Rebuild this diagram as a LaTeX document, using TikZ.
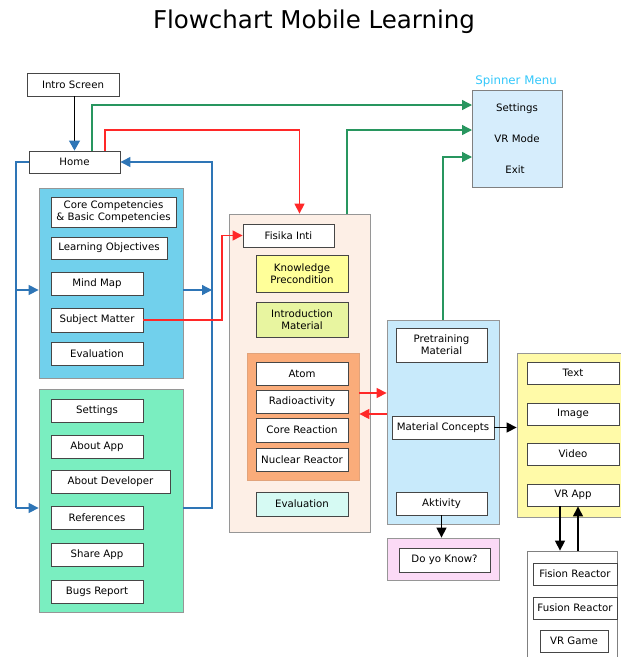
\documentclass[tikz,border=0pt]{standalone}
\usepackage{fontspec}
\setmainfont{DejaVu Sans}
\usetikzlibrary{arrows.meta}
\definecolor{cyanbg}{RGB}{113,208,236}
\definecolor{mintbg}{RGB}{122,238,192}
\definecolor{peachbg}{RGB}{253,239,230}
\definecolor{kpbg}{RGB}{255,255,153}
\definecolor{imbg}{RGB}{232,245,160}
\definecolor{orangebg}{RGB}{250,172,122}
\definecolor{evalbg}{RGB}{214,250,243}
\definecolor{bluebg}{RGB}{200,234,251}
\definecolor{pinkbg}{RGB}{251,218,246}
\definecolor{yellowbg}{RGB}{255,250,168}
\definecolor{spinbg}{RGB}{214,237,252}
\definecolor{spintitle}{RGB}{51,199,250}
\definecolor{lblue}{RGB}{46,117,182}
\definecolor{lgreen}{RGB}{40,150,95}
\definecolor{lred}{RGB}{255,40,40}
\definecolor{bord}{RGB}{70,70,70}
\definecolor{cbord}{RGB}{150,150,150}
\newcommand\bx[7]{\node[#6, minimum width={(#4-#2)*1pt}, minimum height={(#5-#3)*1pt}] (#1) at ({(#2+#4)/2},{(#3+#5)/2}) {#7};}
\newcommand\fs{\fontsize{10.2}{12}\selectfont}
\begin{document}
\begin{tikzpicture}[x=1pt,y=-1pt,
  box/.style={draw=bord, line width=0.9pt, fill=white, inner sep=0pt, align=center, font=\fs},
  cont/.style={draw=cbord, line width=0.8pt, inner sep=0pt},
  arr/.style={-{Triangle[length=10pt,width=10pt]}},
  blu/.style={draw=lblue, line width=1.3pt, arr},
  grn/.style={draw=lgreen, line width=1.4pt, arr},
  rd/.style={draw=lred, line width=1.3pt, arr},
  blk/.style={draw=black, line width=1.4pt, arr},
  lbl/.style={font=\fs, inner sep=0pt}]
\useasboundingbox (0,0) rectangle (621,657);
\clip (0,0) rectangle (621,657);
\node[font=\fontsize{24.5}{28}\selectfont, inner sep=0pt] (title) at (314,22) {Flowchart Mobile Learning};

% left column
\bx{intro}{27}{73}{119}{96}{box}{Intro Screen}
\bx{home}{29}{151}{120}{173}{box}{Home}
\bx{cyanc}{39}{188}{183}{378}{cont,fill=cyanbg}{}
\bx{cc}{51}{197}{176}{227}{box}{Core Competencies\\\& Basic Competencies}
\bx{lo}{51}{237}{167}{259}{box}{Learning Objectives}
\bx{mm}{51}{272}{143}{295}{box}{Mind Map}
\bx{subj}{51}{308}{143}{332}{box}{Subject Matter}
\bx{evl}{51}{342}{143}{365}{box}{Evaluation}
\bx{mintc}{39}{389}{183}{612}{cont,fill=mintbg}{}
\bx{sett}{51}{399}{143}{422}{box}{Settings}
\bx{about}{51}{435}{143}{458}{box}{About App}
\bx{dev}{51}{470}{170}{493}{box}{About Developer}
\bx{refs}{51}{506}{143}{529}{box}{References}
\bx{share}{51}{543}{143}{566}{box}{Share App}
\bx{bugs}{51}{580}{143}{603}{box}{Bugs Report}

% middle column
\bx{fisc}{229}{214}{370}{532}{cont,fill=peachbg}{}
\bx{fis}{243}{224}{334}{247}{box}{Fisika Inti}
\bx{kp}{256}{255}{348}{292}{box,fill=kpbg}{Knowledge\\Precondition}
\bx{im}{256}{302}{348}{337}{box,fill=imbg}{Introduction\\Material}
\bx{orc}{247}{353}{359}{480}{cont,fill=orangebg,draw=orangebg!80!gray}{}
\bx{atom}{256}{362}{348}{385}{box}{Atom}
\bx{radio}{256}{390}{348}{413}{box}{Radioactivity}
\bx{core}{256}{418}{348}{442}{box}{Core Reaction}
\bx{nucl}{256}{448}{348}{471}{box}{Nuclear Reactor}
\bx{eval2}{256}{492}{348}{516}{box,fill=evalbg}{Evaluation}

% blue column
\bx{bluec}{387}{320}{499}{524}{cont,fill=bluebg}{}
\bx{pre}{396}{328}{487}{362}{box}{Pretraining\\Material}
\bx{matc}{392}{416}{494}{439}{box}{Material Concepts}
\bx{akt}{396}{492}{487}{515}{box}{Aktivity}
\bx{pinkc}{387}{538}{499}{580}{cont,fill=pinkbg}{}
\bx{dyk}{399}{548}{490}{572}{box}{Do yo Know?}

% spinner
\bx{spin}{472}{90}{562}{187}{cont,fill=spinbg,draw=gray}{}
\node[font=\fontsize{11.8}{13}\selectfont, text=spintitle, inner sep=0pt] (spt) at (516,81) {Spinner Menu};
\node[lbl] (sps) at (517,109) {Settings};
\node[lbl] (spv) at (517,139) {VR Mode};
\node[lbl] (spe) at (515,170) {Exit};

% right column
\bx{yelc}{517}{353}{640}{517}{cont,fill=yellowbg}{}
\bx{txt}{527}{362}{619}{384}{box}{Text}
\bx{img}{527}{403}{619}{425}{box}{Image}
\bx{vid}{527}{443}{619}{465}{box}{Video}
\bx{vrapp}{527}{484}{619}{506}{box}{VR App}
\bx{lowc}{527}{551}{617}{680}{cont,fill=white,draw=gray}{}
\bx{fision}{533}{563}{617}{585}{box}{Fision Reactor}
\bx{fusion}{533}{597}{617}{619}{box}{Fusion Reactor}
\bx{vrg}{540}{630}{608}{652}{box}{VR Game}

% helper coordinates
\coordinate (s1) at (472,105);
\coordinate (s2) at (472,130);
\coordinate (s3) at (472,157);
\coordinate (g1) at (92,105);
\coordinate (r1) at (105,130);
\coordinate (g2) at (347,0);
\coordinate (g3) at (443,0);
\coordinate (bl1) at (16,290);
\coordinate (bl2) at (16,508);
\coordinate (br1) at (212,290);
\coordinate (br2) at (212,508);
\coordinate (rs) at (222,0);
\coordinate (ra1) at (0,393);
\coordinate (ra2) at (0,414);
\coordinate (vd) at (560,0);
\coordinate (vu) at (578,0);

% connectors
\draw[draw=black, line width=1.3pt, -{Triangle[length=10pt,width=11pt,color=lblue]}] (intro.south -| home.north) -- (home.north);
\draw[grn] (home.north -| g1) |- (s1);
\draw[rd] (home.north -| r1) |- (fisc.north |- r1) -- (fisc.north);
\draw[blu,-] (home.west) -| (bl1) -- (bl2);
\draw[blu] (bl1) -- (cyanc.west |- bl1);
\draw[blu] (bl2) -- (mintc.west |- bl2);
\draw[blu] (cyanc.east |- br1) -- (br1);
\draw[blu] (mintc.east |- br2) -- (br2) |- (home.east);
\draw[rd] (subj.east) -- (subj.east -| rs) |- (fis.west);
\draw[rd] (orc.east |- ra1) -- (bluec.west |- ra1);
\draw[rd] (bluec.west |- ra2) -- (orc.east |- ra2);
\draw[grn] (fisc.north -| g2) |- (s2);
\draw[grn] (bluec.north -| g3) |- (s3);
\draw[blk] (matc.east) -- (yelc.west |- matc.east);
\draw[blk] (akt.south) -- (pinkc.north -| akt.south);
\draw[blk] (vrapp.south -| vd) -- (lowc.north -| vd);
\draw[blk] (lowc.north -| vu) -- (vrapp.south -| vu);
\end{tikzpicture}
\end{document}
